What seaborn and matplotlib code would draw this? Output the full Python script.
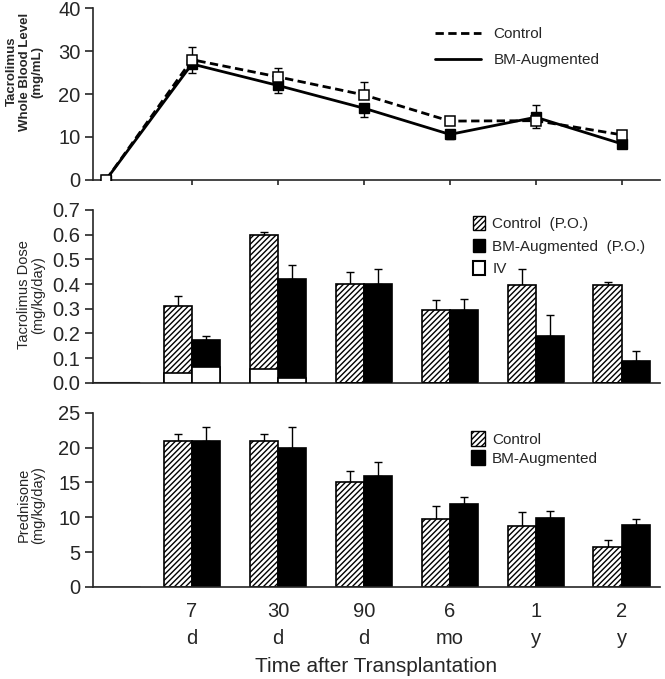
import numpy as np
import matplotlib
matplotlib.use("Agg")
import matplotlib.pyplot as plt
import pandas as pd
import seaborn as sns

# ---- data ----
time_labels = ["7\nd", "30\nd", "90\nd", "6\nmo", "1\ny", "2\ny"]
line_pos = [0, 1, 2, 3, 4, 5, 6]

level_control = [0, 28, 24, 19.8, 13.7, 13.8, 10.5]
level_control_err = [0, 3.0, 2.0, 3.0, 1.0, 1.8, 1.0]      # control error bars
level_control_dir = [1, 1, 1, 1, 1, -1, 1]                 # up (1) / down (-1)
level_bm = [0, 27, 22, 16.7, 10.6, 14.6, 8.4]
level_bm_err = [0, 2.0, 1.7, 2.0, 1.0, 2.8, 1.0]
level_bm_dir = [-1, -1, -1, -1, -1, 1, -1]

dose_control = [0.31, 0.60, 0.40, 0.295, 0.395, 0.395]
dose_control_err = [0.04, 0.01, 0.05, 0.04, 0.065, 0.015]
dose_control_iv = [0.04, 0.055, 0, 0, 0, 0]
dose_bm = [0.175, 0.42, 0.40, 0.295, 0.19, 0.09]
dose_bm_err = [0.015, 0.055, 0.06, 0.045, 0.085, 0.04]
dose_bm_iv = [0.065, 0.02, 0, 0, 0, 0]

pred_control = [21, 21, 15, 9.8, 8.8, 5.8]
pred_control_err = [1.0, 1.0, 1.7, 1.8, 2.0, 0.9]
pred_bm = [21, 20, 15.9, 11.9, 9.9, 8.9]
pred_bm_err = [2.0, 3.0, 2.0, 1.0, 1.0, 0.9]

sns.set_style("ticks")
plt.rcParams['font.family'] = ['Liberation Sans', 'DejaVu Sans']
plt.rcParams['hatch.linewidth'] = 1.0

fig = plt.figure(figsize=(6.65, 6.79), dpi=100)
ax1 = fig.add_axes([0.14, 0.735, 0.852, 0.253])
ax2 = fig.add_axes([0.14, 0.436, 0.852, 0.255])
ax3 = fig.add_axes([0.14, 0.1355, 0.852, 0.2565])

XMIN, XMAX = -0.15, 6.44
bw = 0.33
err_kw = dict(fmt='none', ecolor='black', elinewidth=1, capsize=3, capthick=1)

# ---- top panel: whole blood level ----
df_lvl = pd.DataFrame({
    "pos": line_pos * 2,
    "val": level_control + level_bm,
    "grp": ["Control"] * 7 + ["BM-Augmented"] * 7,
})
sns.lineplot(data=df_lvl, x="pos", y="val", hue="grp", style="grp",
             palette={"Control": "black", "BM-Augmented": "black"},
             dashes={"Control": (3, 1.6), "BM-Augmented": ""},
             linewidth=2, ax=ax1, legend=False)
ax1.plot(line_pos, level_bm, 's', color='black', ms=6.5, zorder=4)
ax1.plot(line_pos, level_control, 's', mfc='white', mec='black', mew=1.1, ms=6.5, zorder=5)
for vals, errs, dirs in [(level_control, level_control_err, level_control_dir),
                         (level_bm, level_bm_err, level_bm_dir)]:
    for p, v, e, d in zip(line_pos, vals, errs, dirs):
        if e == 0:
            continue
        yerr = [[0], [e]] if d > 0 else [[e], [0]]
        ax1.errorbar(p, v, yerr=yerr, zorder=3, **err_kw)

ax1.plot([], [], color='black', lw=2, ls=(0, (3, 1.6)), label='Control')
ax1.plot([], [], color='black', lw=2, ls='-', label='BM-Augmented')
ax1.legend(loc='upper left', bbox_to_anchor=(0.58, 0.97), frameon=False, fontsize=11,
           handlelength=3.0, labelspacing=0.8)
ax1.set_xlabel("")
ax1.set_ylim(0, 40)
ax1.set_yticks([0, 10, 20, 30, 40])
ax1.set_xticks(line_pos[1:])
ax1.set_xticklabels([])
ax1.set_ylabel("Tacrolimus\nWhole Blood Level\n(mg/mL)", fontsize=9.5, fontweight='bold', linespacing=1.05)
ax1.yaxis.set_label_coords(-0.088, 0.63)

# ---- middle panel: tacrolimus dose ----
bar_pos = np.arange(1, 7)
ax2.bar(bar_pos - bw / 2, dose_control, width=bw, color='white', edgecolor='black', hatch='//////', lw=1.2, zorder=2)
ax2.bar(bar_pos + bw / 2, dose_bm, width=bw, color='black', edgecolor='black', lw=1.2, zorder=2)
ax2.bar(bar_pos - bw / 2, dose_control_iv, width=bw, color='white', edgecolor='black', lw=1.2, zorder=3)
ax2.bar(bar_pos + bw / 2, dose_bm_iv, width=bw, color='white', edgecolor='black', lw=1.2, zorder=3)
ax2.errorbar(bar_pos - bw / 2, dose_control, yerr=[np.zeros(6), dose_control_err], zorder=1, **err_kw)
ax2.errorbar(bar_pos + bw / 2, dose_bm, yerr=[np.zeros(6), dose_bm_err], zorder=1, **err_kw)
ax2.bar([0], [0], color='white', edgecolor='black', hatch='//////', label='Control  (P.O.)')
ax2.bar([0], [0], color='black', edgecolor='black', label='BM-Augmented  (P.O.)')
ax2.bar([0], [0], color='white', edgecolor='black', lw=1.5, label='IV')
ax2.legend(loc='upper left', bbox_to_anchor=(0.649, 1.035), frameon=False, fontsize=11, borderpad=0.3,
           handlelength=0.8, handleheight=1.0, handletextpad=0.45, labelspacing=0.5)
ax2.set_ylim(0, 0.7)
ax2.set_yticks(np.arange(0, 0.71, 0.1))
ax2.set_yticklabels([f"{v:.1f}" for v in np.arange(0, 0.71, 0.1)])
ax2.set_xticks([])
ax2.set_ylabel("Tacrolimus Dose\n(mg/kg/day)", fontsize=10.5, linespacing=1.0)
ax2.yaxis.set_label_coords(-0.085, 0.51)

# ---- bottom panel: prednisone ----
ax3.bar(bar_pos - bw / 2, pred_control, width=bw, color='white', edgecolor='black', hatch='//////', lw=1.2, zorder=2)
ax3.bar(bar_pos + bw / 2, pred_bm, width=bw, color='black', edgecolor='black', lw=1.2, zorder=2)
ax3.errorbar(bar_pos - bw / 2, pred_control, yerr=[np.zeros(6), pred_control_err], zorder=1, **err_kw)
ax3.errorbar(bar_pos + bw / 2, pred_bm, yerr=[np.zeros(6), pred_bm_err], zorder=1, **err_kw)
ax3.bar([0], [0], color='white', edgecolor='black', hatch='//////', label='Control')
ax3.bar([0], [0], color='black', edgecolor='black', label='BM-Augmented')
ax3.legend(loc='upper left', bbox_to_anchor=(0.646, 0.965), frameon=False, fontsize=11, borderpad=0.3,
           handlelength=0.9, handleheight=1.1, handletextpad=0.45, labelspacing=0.25)
ax3.set_ylim(0, 25)
ax3.set_yticks([0, 5, 10, 15, 20, 25])
ax3.set_xticks(bar_pos)
ax3.set_xticklabels(time_labels, fontsize=14.5, linespacing=1.5)
ax3.tick_params(axis='x', length=0, pad=11)
ax3.set_ylabel("Prednisone\n(mg/kg/day)", fontsize=10.5, linespacing=1.0)
ax3.yaxis.set_label_coords(-0.085, 0.47)
ax3.set_xlabel("Time after Transplantation", fontsize=15)
ax3.xaxis.set_label_coords(0.5, -0.40)

for ax in (ax1, ax2, ax3):
    ax.set_xlim(XMIN, XMAX)
    sns.despine(ax=ax)
    ax.spines['left'].set_linewidth(1.2)
    ax.spines['bottom'].set_linewidth(1.2)
    ax.tick_params(axis='y', labelsize=14.5, width=1.2, length=6, pad=3)
    ax.tick_params(axis='x', width=1.2)

fig.savefig("out.png", dpi=100)
